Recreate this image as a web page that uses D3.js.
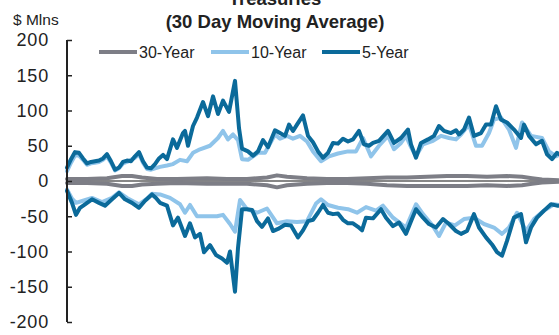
<!DOCTYPE html>
<html>
<head>
<meta charset="utf-8">
<script src="https://cdn.jsdelivr.net/npm/d3@7"></script>
<style>
	html, body { margin: 0; padding: 0; background: #fff; }
	#chart { width: 559px; height: 335px; }
	text { font-family: "Liberation Sans", Arial, sans-serif; fill: #222; }
</style>
</head>
<body>
<div id="chart"></div>
<script>

// [trading day, $ mlns]
var thirtyYearUp = [[0,3],[20,3],[40,4],[55,7],[65,7],[75,5],[90,3],[110,3],[140,4],[160,3],[180,3],[200,5],[210,8],[220,6],[240,4],[260,3],[280,3],[300,4],[320,5],[340,5],[360,6],[380,7],[400,7],[420,6],[440,7],[455,6],[465,4],[475,2],[492,1]];
var thirtyYearDown = [[0,-3],[20,-3],[40,-4],[55,-7],[65,-7],[75,-5],[90,-4],[110,-3],[140,-4],[160,-4],[180,-4],[200,-6],[210,-9],[220,-6],[240,-4],[260,-3],[280,-3],[300,-4],[320,-6],[340,-7],[360,-7],[380,-7],[400,-7],[420,-6],[440,-7],[455,-6],[465,-4],[475,-2],[492,-1]];

var tenYearUp = [[0,14],[4,26],[8,36],[12,36],[16,30],[20,23],[24,25],[28,26],[32,27],[36,30],[40,35],[44,26],[48,15],[52,18],[56,25],[60,27],[64,30],[68,33],[72,38],[76,26],[80,17],[84,16],[88,18],[93,20],[100,22],[106,24],[113,30],[120,28],[126,40],[133,45],[143,50],[151,61],[156,71],[161,59],[166,66],[171,58],[175,31],[181,30],[186,35],[191,40],[198,40],[208,66],[213,60],[220,64],[226,60],[233,64],[240,56],[246,42],[254,28],[262,35],[271,39],[281,42],[289,42],[296,61],[304,35],[312,50],[321,64],[327,45],[334,54],[339,64],[344,48],[349,35],[356,52],[366,57],[374,64],[382,61],[389,59],[394,66],[402,80],[409,50],[415,50],[422,68],[427,87],[434,90],[442,73],[449,47],[455,83],[464,64],[475,61],[482,42],[489,35],[492,37]];
var tenYearDown = [[0,-12],[5,-25],[9,-31],[16,-28],[25,-24],[35,-30],[45,-24],[52,-16],[60,-24],[68,-30],[72,-33],[80,-25],[85,-18],[93,-19],[103,-24],[113,-33],[118,-45],[123,-34],[130,-50],[140,-50],[150,-50],[156,-48],[163,-61],[168,-72],[173,-27],[180,-40],[190,-45],[200,-39],[210,-60],[220,-57],[230,-58],[240,-57],[249,-32],[254,-26],[261,-34],[271,-38],[281,-40],[290,-45],[299,-37],[309,-42],[316,-35],[326,-52],[339,-66],[349,-33],[356,-47],[366,-64],[372,-78],[379,-59],[388,-63],[397,-54],[407,-52],[417,-61],[427,-66],[435,-75],[442,-66],[450,-45],[459,-71],[467,-54],[477,-42],[487,-33],[492,-34]];

var fiveYearUp = [[0,19],[4,31],[8,41],[12,40],[16,32],[20,25],[24,27],[28,28],[32,29],[36,32],[40,38],[44,28],[48,16],[52,19],[56,27],[60,29],[64,28],[68,35],[72,41],[76,28],[80,19],[84,18],[88,24],[92,32],[96,37],[100,31],[106,59],[110,47],[116,68],[118,71],[121,50],[126,78],[130,90],[136,112],[141,92],[146,120],[151,95],[156,114],[162,98],[168,142],[172,75],[175,46],[181,42],[186,36],[191,42],[196,58],[201,48],[208,72],[213,68],[218,64],[222,80],[226,71],[230,80],[236,93],[241,64],[246,55],[251,42],[256,33],[261,40],[266,54],[271,53],[276,60],[281,56],[286,59],[292,71],[297,52],[302,50],[306,54],[312,57],[321,71],[327,54],[334,61],[341,73],[344,52],[349,33],[354,54],[361,59],[367,64],[372,78],[377,71],[384,68],[389,72],[392,66],[397,73],[402,90],[407,64],[414,68],[419,80],[424,80],[429,106],[434,87],[440,83],[447,73],[454,61],[457,80],[462,64],[469,52],[475,57],[480,38],[485,31],[490,40],[492,38]];
var fiveYearDown = [[0,-14],[5,-31],[9,-48],[13,-38],[18,-33],[25,-26],[32,-31],[38,-35],[45,-26],[52,-17],[58,-26],[65,-31],[72,-38],[78,-28],[85,-19],[89,-24],[93,-31],[100,-35],[106,-63],[111,-52],[118,-78],[123,-60],[128,-80],[133,-75],[137,-101],[143,-91],[149,-105],[155,-110],[160,-116],[163,-100],[168,-157],[171,-95],[175,-40],[180,-40],[185,-41],[190,-57],[195,-65],[201,-53],[206,-71],[211,-68],[218,-62],[224,-63],[231,-80],[236,-70],[241,-57],[246,-55],[251,-45],[256,-34],[261,-45],[266,-47],[271,-46],[276,-55],[281,-60],[286,-60],[291,-65],[295,-70],[299,-52],[306,-53],[314,-40],[319,-52],[326,-64],[332,-59],[339,-75],[344,-57],[349,-40],[356,-52],[362,-61],[369,-66],[376,-54],[382,-61],[389,-71],[394,-75],[400,-71],[407,-47],[412,-66],[419,-80],[425,-90],[430,-101],[435,-106],[440,-85],[447,-52],[454,-47],[459,-87],[464,-66],[470,-52],[477,-42],[484,-33],[490,-35],[492,-35]];

var seriesNames = ["30-Year", "10-Year", "5-Year"];
var seriesColors = ["#7d7e86", "#8fc4ea", "#0b6a9a"];
var yTicks = [-200, -150, -100, -50, 0, 50, 100, 150, 200];

var
	width = 559,
	height = 335,
	margin = {left: 67, top: 40, bottom: 13},

	x = d3.scaleLinear().domain([0, 492]).range([margin.left, width]),
	y = d3.scaleLinear().domain([-200, 200]).range([height - margin.bottom, margin.top]),

	svg = d3.select("#chart")
		.append("svg")
		.attr("width", width)
		.attr("height", height),

	line = d3.line()
		.x(d => x(d[0]))
		.y(d => y(d[1]));

// titles (top line is cut by the frame, as in the source)
svg.append("text")
	.attr("x", 275).attr("y", 5)
	.attr("text-anchor", "middle")
	.style("font-size", "18.5px").style("font-weight", "bold")
	.text("Treasuries");
svg.append("text")
	.attr("x", 275).attr("y", 28)
	.attr("text-anchor", "middle")
	.style("font-size", "18.5px").style("font-weight", "bold")
	.text("(30 Day Moving Average)");
svg.append("text")
	.attr("x", 13).attr("y", 25)
	.style("font-size", "15.5px")
	.text("$ Mlns");

// zero line
svg.append("line")
	.attr("x1", x(0)).attr("x2", width)
	.attr("y1", y(0)).attr("y2", y(0))
	.attr("stroke", "#111")
	.attr("stroke-width", 1.2);

// series, drawn 30 -> 10 -> 5 so the 5-Year sits on top
var lines = [
	[thirtyYearUp, thirtyYearDown],
	[tenYearUp, tenYearDown],
	[fiveYearUp, fiveYearDown]
];
lines.forEach(function(pair, i){
	svg.append("g")
		.selectAll("path")
		.data(pair)
		.join("path")
		.attr("d", line)
		.attr("fill", "none")
		.attr("stroke", seriesColors[i])
		.attr("stroke-width", 4)
		.attr("stroke-linejoin", "round")
		.attr("stroke-linecap", "round");
});

// y axis, ticks pointing inward
var yAxis = svg.append("g")
	.attr("transform", "translate(" + margin.left + ",0)")
	.call(d3.axisRight(y).tickValues(yTicks).tickSize(5).tickFormat(""));
yAxis.select(".domain")
	.attr("d", "M0," + y(200) + "V" + y(-200))
	.attr("stroke", "#222").attr("stroke-width", 2);
yAxis.selectAll(".tick line").attr("stroke", "#222").attr("stroke-width", 1.5);

svg.append("g")
	.selectAll("text")
	.data(yTicks)
	.join("text")
	.attr("x", 49)
	.attr("y", d => y(d))
	.attr("dy", "0.36em")
	.attr("text-anchor", "end")
	.style("font-size", "18px")
	.style("letter-spacing", "0.8px")
	.text(d => d);

// legend
var legendX = [99, 211, 322];
var legend = svg.append("g")
	.selectAll("g")
	.data(seriesNames)
	.join("g")
	.attr("transform", (d, i) => "translate(" + legendX[i] + ",52)");
legend.append("line")
	.attr("x1", 0).attr("x2", 38)
	.attr("stroke", (d, i) => seriesColors[i])
	.attr("stroke-width", 4);
legend.append("text")
	.attr("x", 40).attr("y", 5.5)
	.style("font-size", "16px")
	.text(d => d);

</script>
</body>
</html>
